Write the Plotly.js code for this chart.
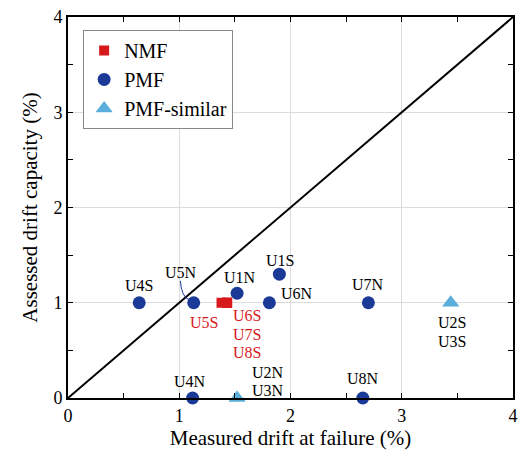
<!DOCTYPE html>
<html>
<head>
<meta charset="utf-8">
<script src="https://cdn.plot.ly/plotly-3.0.1.min.js"></script>
<style>html,body{margin:0;padding:0;background:#fff}#chart{width:518px;height:458px}</style>
</head>
<body>
<div id="chart"></div>
<script>
// Specimen results: measured drift at failure vs assessed drift capacity (%)
const nmfNames = ['U5S', 'U6S', 'U7S', 'U8S'];
const nmfX = [1.38, 1.43, 1.43, 1.43];
const nmfY = [1.0, 1.0, 1.0, 1.0];

const pmfNames = ['U4S', 'U5N', 'U1N', 'U1S', 'U6N', 'U7N', 'U4N', 'U8N'];
const pmfX = [0.64, 1.13, 1.52, 1.90, 1.81, 2.70, 1.12, 2.65];
const pmfY = [1.0, 1.0, 1.10, 1.30, 1.0, 1.0, 0.0, 0.0];

const simNames = [['U2S', 'U3S'], ['U2N', 'U3N']];
const simX = [3.44, 1.52];
const simY = [1.0, 0.0];

const diagX = [0, 4];
const diagY = [0, 4];

const FONT = 'Liberation Serif, Times New Roman, serif';
const RED = '#d7191c';
const NAVY = '#1b3a97';
const SKY = '#5aaedb';
const LINE_GAP = 18.5;   // px between stacked label lines
const LABEL_SIZE = 16;

const traces = [
  {x: diagX, y: diagY, mode: 'lines', line: {color: '#000', width: 2}, showlegend: false, hoverinfo: 'skip'},
  {x: nmfX, y: nmfY, name: 'NMF', mode: 'markers', type: 'scatter',
   marker: {symbol: 'square', size: 10, color: RED}},
  {x: pmfX, y: pmfY, name: 'PMF', mode: 'markers', type: 'scatter', cliponaxis: false,
   marker: {symbol: 'circle', size: 13, color: NAVY}},
  {x: simX, y: simY, name: 'PMF-similar', mode: 'markers', type: 'scatter', cliponaxis: false,
   marker: {symbol: 'triangle-up', size: 15, color: SKY}}
];

// label offsets in pixels (xshift, yshift of the first line) for each specimen
const pmfOffsets = {
  'U4S': [0, 17], 'U5N': [-13, 30], 'U1N': [3, 16], 'U1S': [1, 14],
  'U6N': [28, 9], 'U7N': [0, 18], 'U4N': [-3, 17], 'U8N': [0, 20]
};
const simOffsets = [[1, -20], [31, 26]];

const annotations = [];
function addLines(x, y, lines, dx, dy, color) {
  lines.forEach((t, k) => {
    annotations.push({x: x, y: y, text: t, showarrow: false,
      xshift: dx, yshift: dy - k * LINE_GAP,
      font: {family: FONT, size: LABEL_SIZE, color: color}});
  });
}
pmfNames.forEach((n, i) => addLines(pmfX[i], pmfY[i], [n], pmfOffsets[n][0], pmfOffsets[n][1], '#000'));
simNames.forEach((n, i) => addLines(simX[i], simY[i], n, simOffsets[i][0], simOffsets[i][1], '#000'));
// NMF labels: U5S on its own, U6S–U8S stacked beside the second square
addLines(nmfX[0], nmfY[0], [nmfNames[0]], -18, -20, RED);
addLines(nmfX[1], nmfY[1], nmfNames.slice(1), 20, -13, RED);

// thin curved leader from the U5N label down to its marker
const ux = pmfX[1], uy = pmfY[1];
const leader = {
  type: 'path', xref: 'x', yref: 'y',
  path: `M ${ux - 0.12} ${uy + 0.23} Q ${ux - 0.11} ${uy + 0.06} ${ux - 0.04} ${uy + 0.03}`,
  line: {color: NAVY, width: 1}
};

const axisCommon = {
  range: [0, 4], dtick: 1, ticks: 'inside', ticklen: 5, tickwidth: 1, tickcolor: '#000',
  mirror: 'allticks', showline: true, linecolor: '#000', linewidth: 2,
  showgrid: true, gridcolor: '#dcdcdc', gridwidth: 1, zeroline: false,
  tickfont: {family: FONT, size: 18, color: '#000'},
  minor: {dtick: 0.5, ticks: 'inside', ticklen: 5, tickcolor: '#000', showgrid: false}
};

const layout = {
  width: 518, height: 458,
  margin: {l: 68, r: 5, t: 17, b: 60},
  paper_bgcolor: '#fff', plot_bgcolor: '#fff',
  font: {family: FONT, color: '#000'},
  xaxis: Object.assign({}, axisCommon, {
    title: {text: 'Measured drift at failure (%)', font: {family: FONT, size: 21}, standoff: 6}
  }),
  yaxis: Object.assign({}, axisCommon, {
    title: {text: 'Assessed drift capacity (%)', font: {family: FONT, size: 21}, standoff: 10}
  }),
  legend: {
    x: 0.034, y: 0.966, xanchor: 'left', yanchor: 'top',
    bgcolor: '#fff', bordercolor: '#888', borderwidth: 1,
    font: {family: FONT, size: 20, color: '#000'},
    itemsizing: 'trace', tracegroupgap: 0
  },
  annotations: annotations,
  shapes: [leader],
  showlegend: true
};

Plotly.newPlot('chart', traces, layout, {displayModeBar: false, staticPlot: true});
</script>
</body>
</html>
